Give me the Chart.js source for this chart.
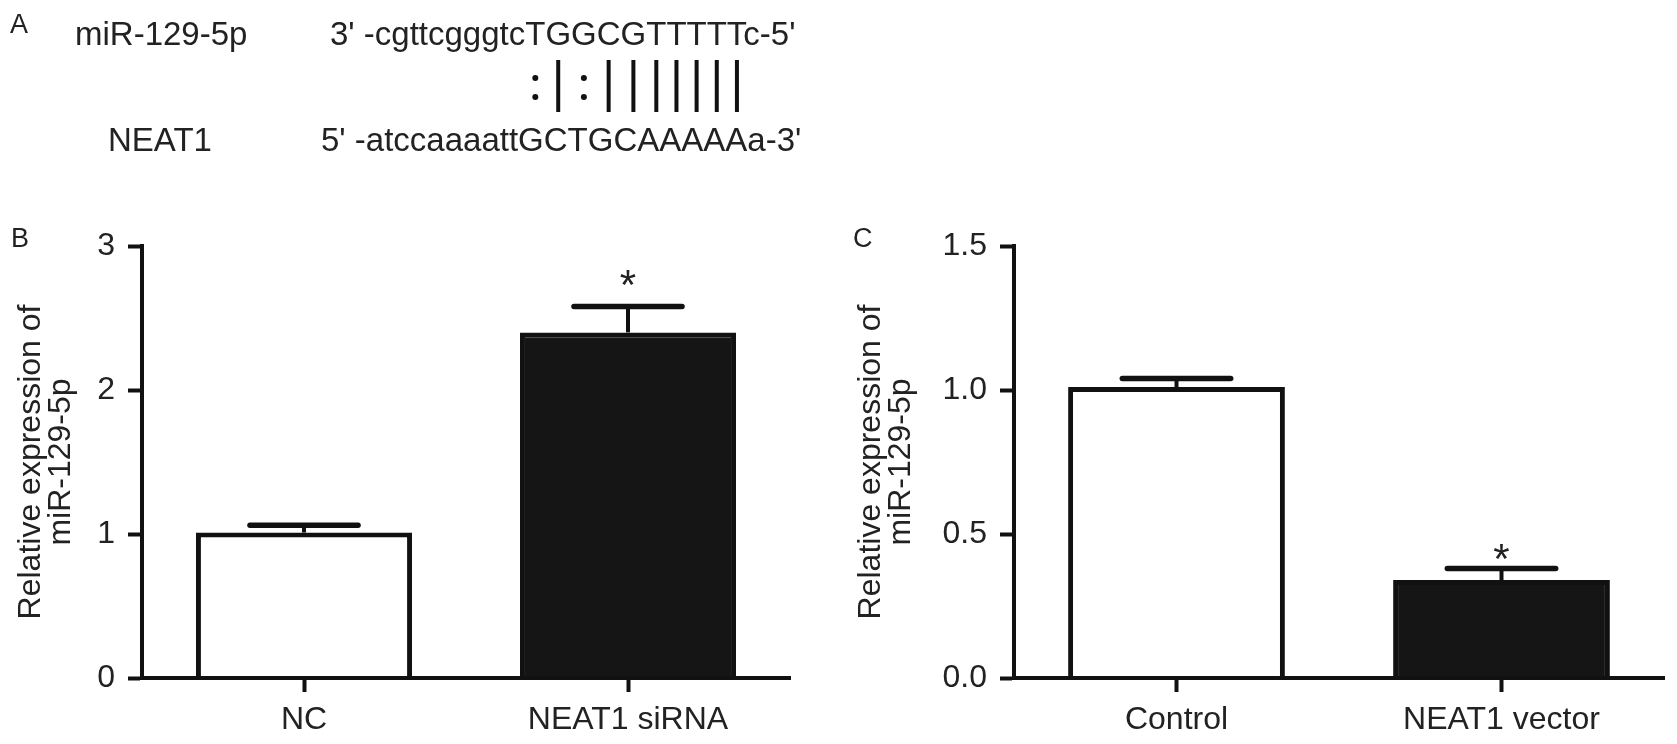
<!DOCTYPE html>
<html><head><meta charset="utf-8">
<script src="https://cdn.jsdelivr.net/npm/chart.js@4/dist/chart.umd.min.js"></script>
<style>
html,body{margin:0;padding:0;background:#fff;width:1677px;height:744px;overflow:hidden}
#wrap{position:relative;width:1677px;height:744px}
canvas{position:absolute}
#bg{left:0;top:0}
#chartB{left:0;top:200px}
#chartC{left:840px;top:200px}
</style></head>
<body><div id="wrap">
<canvas id="bg" width="1677" height="744"></canvas>
<canvas id="chartB" width="840" height="544"></canvas>
<canvas id="chartC" width="837" height="544"></canvas>
</div>
<script>
// ---- Panel B data ----
const categoriesB = ['NC', 'NEAT1 siRNA'];
const valuesB = [1.01, 2.40];
const errorsB = [0.05, 0.18];
const starsB = ['', '*'];
const yTicksB = [0, 1, 2, 3];
const yTickLabelsB = ['0', '1', '2', '3'];

// ---- Panel C data ----
const categoriesC = ['Control', 'NEAT1 vector'];
const valuesC = [1.01, 0.34];
const errorsC = [0.03, 0.04];
const starsC = ['', '*'];
const yTicksC = [0, 0.5, 1.0, 1.5];
const yTickLabelsC = ['0.0', '0.5', '1.0', '1.5'];

const yTitle = ['Relative expression of', 'miR-129-5p'];

// ---- Panel A text ----
const mirLabel = 'miR-129-5p';
const mirSeq = "3' -cgttcgggtcTGGCGTTTTTc-5'";
const lncLabel = 'NEAT1';
const lncSeq = "5' -atccaaaattGCTGCAAAAAa-3'";
const pairing = ':|:|||||||';
const pairStart = 14;
const panelLetters = ['A', 'B', 'C'];

const FAMILY = '"Liberation Sans", Arial, Helvetica, sans-serif';
const INK = '#111';
const TXT = '#222';

// ---- background canvas: panel A + panel letters ----
(function drawA() {
  const c = document.getElementById('bg');
  const ctx = c.getContext('2d');
  ctx.fillStyle = '#fff';
  ctx.fillRect(0, 0, c.width, c.height);
  ctx.fillStyle = TXT;
  ctx.textBaseline = 'alphabetic';
  ctx.font = '27px ' + FAMILY;
  ctx.fillText(panelLetters[0], 10, 33);
  ctx.fillText(panelLetters[1], 11, 247);
  ctx.fillText(panelLetters[2], 853, 247);

  ctx.font = '33px ' + FAMILY;
  const seqX = 330, topBase = 45, botBase = 151;
  ctx.fillText(mirLabel, 75, topBase);
  ctx.fillText(mirSeq, seqX, topBase);
  ctx.fillText(lncLabel, 108, botBase);
  ctx.fillText(lncSeq, 321, botBase);

  ctx.strokeStyle = INK;
  ctx.fillStyle = INK;
  ctx.lineWidth = 4;
  for (let i = 0; i < pairing.length; i++) {
    const idx = pairStart + i;
    const pre = ctx.measureText(mirSeq.slice(0, idx)).width;
    const w = ctx.measureText(mirSeq[idx]).width;
    const cx = seqX + pre + w / 2;
    if (pairing[i] === '|') {
      ctx.beginPath(); ctx.moveTo(cx, 60); ctx.lineTo(cx, 112); ctx.stroke();
    } else {
      ctx.beginPath(); ctx.arc(cx, 78, 3, 0, Math.PI * 2); ctx.fill();
      ctx.beginPath(); ctx.arc(cx, 97, 3, 0, Math.PI * 2); ctx.fill();
    }
  }
})();

// ---- error bars + significance stars ----
const errorBarPlugin = {
  id: 'errorBars',
  afterDatasetsDraw(chart, args, opts) {
    const ctx = chart.ctx;
    const meta = chart.getDatasetMeta(0);
    const ys = chart.scales.y;
    const data = chart.data.datasets[0].data;
    ctx.save();
    ctx.strokeStyle = INK;
    meta.data.forEach((bar, i) => {
      const v = data[i];
      const top = ys.getPixelForValue(v + opts.errors[i]);
      const base = ys.getPixelForValue(v);
      const half = bar.width * 0.5 / 2;
      ctx.lineWidth = 4; ctx.lineCap = 'butt';
      ctx.beginPath(); ctx.moveTo(bar.x, base); ctx.lineTo(bar.x, top); ctx.stroke();
      ctx.lineWidth = 5.5; ctx.lineCap = 'round';
      ctx.beginPath(); ctx.moveTo(bar.x - half, top); ctx.lineTo(bar.x + half, top); ctx.stroke();
      if (opts.stars[i]) {
        const size = 42;
        ctx.fillStyle = TXT;
        ctx.font = size + 'px ' + FAMILY;
        ctx.textAlign = 'center';
        ctx.textBaseline = 'alphabetic';
        ctx.fillText(opts.stars[i], bar.x, top - opts.starGap + 0.575 * size);
      }
    });
    ctx.restore();
  }
};

function makeChart(id, cats, vals, errs, stars, ticks, tickLabels, lay) {
  return new Chart(document.getElementById(id), {
    type: 'bar',
    data: {
      labels: cats,
      datasets: [{
        data: vals,
        backgroundColor: ['#ffffff', '#151515'],
        borderColor: INK,
        borderWidth: 5,
        borderSkipped: 'start',
        categoryPercentage: 1,
        barPercentage: 0.667
      }]
    },
    options: {
      responsive: false,
      animation: false,
      devicePixelRatio: 1,
      layout: { padding: { left: 0, top: 46, right: lay.right, bottom: 0 } },
      plugins: {
        legend: { display: false },
        tooltip: { enabled: false },
        errorBars: { errors: errs, stars: stars, starGap: lay.starGap }
      },
      scales: {
        x: {
          offset: true,
          grid: { display: true, drawOnChartArea: false, drawTicks: true, tickLength: 14,
                  tickWidth: 4, tickColor: INK, color: INK, offset: false },
          border: { display: true, width: 4, color: INK, z: 1 },
          ticks: { font: { family: FAMILY, size: 32, lineHeight: 1 }, color: TXT, padding: 12,
                   maxRotation: 0, autoSkip: false },
          afterFit: s => { s.height = 66; }
        },
        y: {
          min: ticks[0],
          max: ticks[ticks.length - 1],
          afterBuildTicks: s => { s.ticks = ticks.map(v => ({ value: v })); },
          grid: { display: true, drawOnChartArea: false, drawTicks: true, tickLength: 14,
                  tickWidth: 4, tickColor: INK, color: INK },
          border: { display: true, width: 4, color: INK, z: 1 },
          ticks: {
            font: { family: FAMILY, size: 32 }, color: TXT, padding: 13,
            callback: (v) => tickLabels[ticks.indexOf(v)]
          },
          title: {
            display: true, text: yTitle, color: TXT,
            font: { family: FAMILY, size: 32, lineHeight: 0.95 },
            padding: { top: 16, bottom: 0 }
          },
          afterFit: s => { s.width = lay.yWidth; }
        }
      }
    },
    plugins: [errorBarPlugin]
  });
}

makeChart('chartB', categoriesB, valuesB, errorsB, starsB, yTicksB, yTickLabelsB,
          { yWidth: 142, right: 50, starGap: 32 });
makeChart('chartC', categoriesC, valuesC, errorsC, starsC, yTicksC, yTickLabelsC,
          { yWidth: 174, right: 13, starGap: 20 });
</script>
</body></html>
